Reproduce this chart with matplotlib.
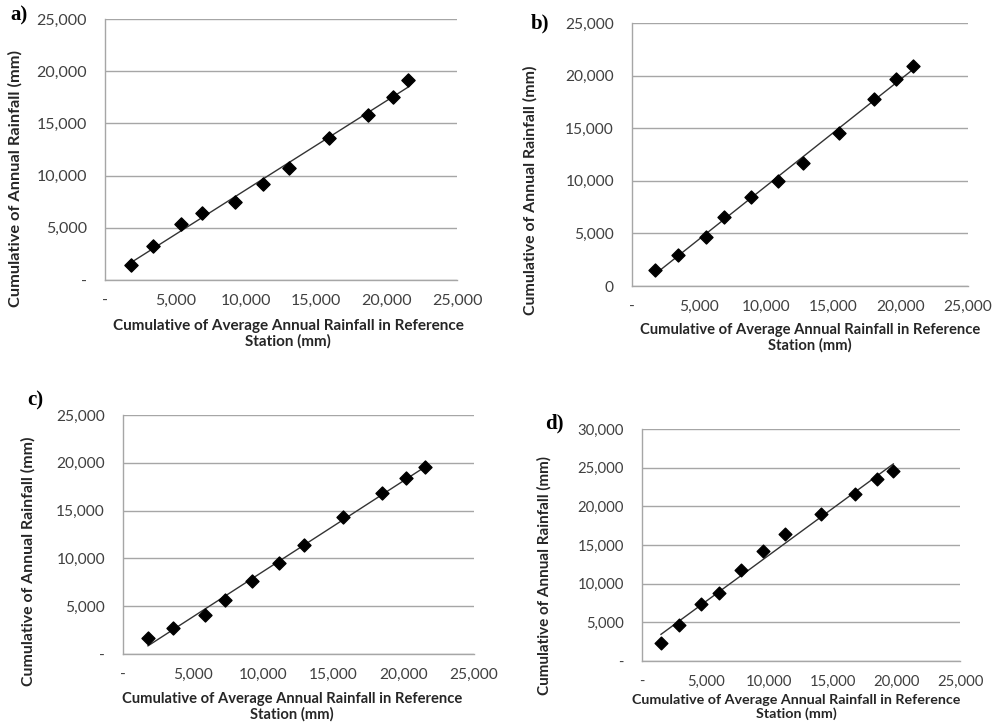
import matplotlib
matplotlib.use('Agg')
import matplotlib.pyplot as plt
from matplotlib.ticker import FuncFormatter
import numpy as np

# Datos (mm acumulados)
x_a = [1825, 3412, 5403, 6896, 9242, 11232, 13081, 15877, 18673, 20427, 21493]
y_a = [1439, 3261, 5371, 6394, 7449, 9175, 10774, 13555, 15793, 17551, 19182]

x_b = [1724, 3448, 5517, 6823, 8842, 10862, 12709, 15419, 17980, 19631, 20887]
y_b = [1557, 2986, 4701, 6544, 8450, 9975, 11722, 14581, 17789, 19632, 20870]

x_c = [1779, 3558, 5835, 7258, 9203, 11101, 12903, 15655, 18430, 20185, 21514]
y_c = [1639, 2720, 4079, 5614, 7601, 9519, 11437, 14296, 16841, 18410, 19526]

x_d = [1494, 2909, 4638, 6080, 7783, 9539, 11268, 14046, 16745, 18501, 19759]
y_d = [2288, 4662, 7381, 8763, 11741, 14245, 16403, 18993, 21583, 23482, 24604]

x_ticks = [0, 5000, 10000, 15000, 20000, 25000]
y_max = {'a': 25000, 'b': 25000, 'c': 25000, 'd': 30000}

xlabel = 'Cumulative of Average Annual Rainfall in Reference\nStation (mm)'
ylabel = 'Cumulative of Annual Rainfall (mm)'

W, H = 993, 727
fig = plt.figure(figsize=(W / 100, H / 100), dpi=100)

# (letra, x, y, caja en pixeles izq/der/arriba/abajo, etiqueta cero, pos. letra,
#  pos. etiquetas (x de xlabel, y de xlabel, y de ylabel, x de ylabel), escala)
paneles = [
    ('a', x_a, y_a, (105, 457, 19, 280), '-', (10, 15), (0.52, -0.15, 0.39, -0.235), 1.0),
    ('b', x_b, y_b, (632, 968, 23, 286), '0', (531, 23), (0.53, -0.14, 0.365, -0.28), 0.97),
    ('c', x_c, y_c, (123, 474, 415, 654), '-', (27, 400), (0.482, -0.16, 0.386, -0.25), 0.97),
    ('d', x_d, y_d, (642, 960, 429, 661), '-', (545, 423), (0.484, -0.142, 0.367, -0.285), 0.93),
]

for letra, xs, ys, (l, r, t, b), cero, (lx, ly), (xlx, xly, yly, ylx), esc in paneles:
    ax = fig.add_axes([l / W, 1 - b / H, (r - l) / W, (b - t) / H])
    xs = np.array(xs)
    ys = np.array(ys)

    ax.scatter(xs, ys, marker='D', s=45 * esc, color='black', zorder=3)

    # Linea de tendencia lineal
    m, c = np.polyfit(xs, ys, 1)
    xx = np.array([xs.min(), xs.max()])
    ax.plot(xx, m * xx + c, color='#333333', linewidth=1, zorder=2)

    ax.set_xlim(0, 25000)
    ax.set_ylim(0, y_max[letra])
    ax.set_xticks(x_ticks)
    ax.set_yticks(np.arange(0, y_max[letra] + 1, 5000))

    fmt_y = FuncFormatter(lambda v, p, z=cero: z if v == 0 else '{:,.0f}'.format(v))
    fmt_x = FuncFormatter(lambda v, p: '-' if v == 0 else '{:,.0f}'.format(v))
    ax.yaxis.set_major_formatter(fmt_y)
    ax.xaxis.set_major_formatter(fmt_x)

    ax.grid(axis='y', color='#a6a6a6', linewidth=1)
    ax.set_axisbelow(True)
    for s in ['top', 'right']:
        ax.spines[s].set_visible(False)
    for s in ['left', 'bottom']:
        ax.spines[s].set_color('#a6a6a6')
        ax.spines[s].set_linewidth(1)
    ax.tick_params(length=0, labelsize=11.5 * esc, labelcolor='#404040')
    ax.tick_params(axis='x', pad=10)
    ax.tick_params(axis='y', pad=13)
    for lab in ax.get_xticklabels() + ax.get_yticklabels():
        lab.set_fontfamily('Lato')

    ax.set_xlabel(xlabel, fontsize=11 * esc, fontweight='bold', family='Lato',
                  color='#262626', linespacing=1.1)
    ax.set_ylabel(ylabel, fontsize=11.8 * esc, fontweight='bold', family='Lato',
                  color='#262626')
    ax.xaxis.set_label_coords(xlx, xly)
    ax.xaxis.label.set_va('top')
    ax.yaxis.set_label_coords(ylx, yly)

    fig.text(lx / W, 1 - ly / H, letra + ')', fontsize=15, fontweight='bold',
             family='Liberation Serif', va='center', ha='left')

fig.savefig('out.png', dpi=100)
